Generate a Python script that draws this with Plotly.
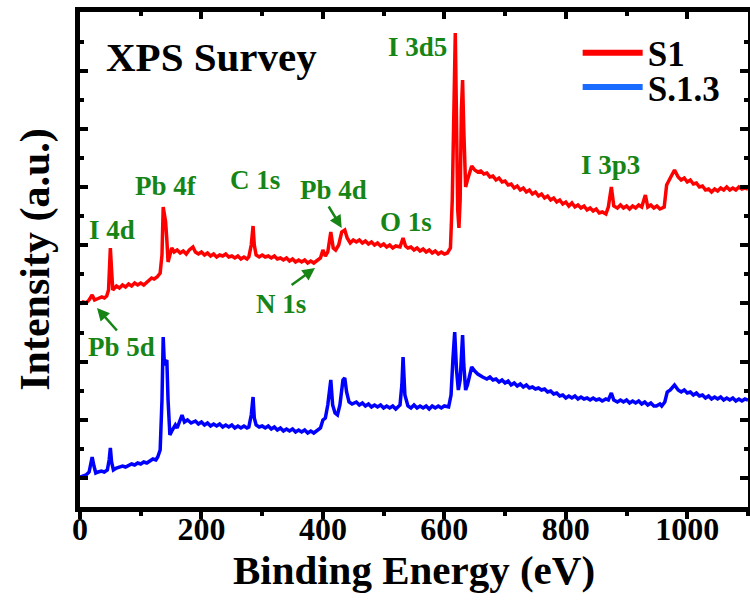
import plotly.graph_objects as go

# ---------------- data ----------------
# (binding energy in eV, intensity in a.u.)
s1_points = [
    (0, 174), (5, 176), (10, 175), (15, 178), (20, 183), (24, 178), (28, 179), (32, 180), (36, 181), (40, 180),
    (44, 182), (47, 188), (49, 216), (50, 230), (52, 208), (54, 188), (57, 190), (60, 192), (65, 190), (70, 193),
    (75, 191), (80, 194), (85, 192), (90, 195), (95, 193), (100, 195), (105, 193), (110, 196), (115, 198), (118, 200),
    (122, 199), (127, 201), (132, 205), (135, 223), (137, 271), (139, 263), (141, 256), (143, 238), (145, 216), (148, 223),
    (151, 230), (155, 226), (160, 228), (165, 225), (170, 227), (175, 224), (180, 228), (186, 231), (190, 226), (195, 224),
    (200, 226), (205, 223), (210, 225), (215, 222), (220, 224), (225, 221), (230, 223), (235, 222), (240, 224), (245, 221),
    (250, 222), (255, 220), (260, 222), (265, 219), (270, 221), (275, 219), (278, 221), (282, 233), (285, 252), (287, 233),
    (290, 223), (295, 221), (300, 223), (305, 221), (310, 222), (315, 220), (320, 222), (325, 219), (330, 220), (335, 218),
    (340, 220), (345, 217), (350, 219), (355, 216), (360, 218), (365, 216), (370, 218), (375, 215), (380, 217), (385, 215),
    (390, 217), (396, 220), (400, 228), (404, 222), (408, 226), (413, 246), (417, 230), (421, 228), (426, 233), (431, 246),
    (436, 248), (440, 240), (445, 235), (450, 238), (455, 236), (460, 238), (465, 235), (470, 237), (475, 234), (480, 236),
    (485, 233), (490, 235), (495, 232), (500, 234), (505, 231), (510, 233), (515, 230), (520, 232), (527, 231), (532, 240),
    (536, 232), (540, 230), (545, 231), (550, 228), (555, 230), (560, 227), (565, 229), (570, 226), (575, 228), (580, 225),
    (585, 227), (590, 224), (595, 226), (600, 224), (605, 225), (610, 230), (613, 278), (616, 418), (618, 445), (620, 358),
    (622, 268), (624, 250), (626, 278), (628, 368), (630, 398), (632, 348), (635, 291), (638, 298), (642, 308), (645, 312),
    (650, 308), (655, 306), (660, 307), (665, 304), (670, 305), (675, 301), (680, 302), (685, 298), (690, 300), (695, 296),
    (700, 297), (705, 293), (710, 294), (715, 290), (720, 292), (725, 288), (730, 290), (735, 286), (740, 288), (745, 284),
    (750, 286), (755, 282), (760, 284), (765, 280), (770, 282), (775, 278), (780, 280), (785, 276), (790, 278), (795, 274),
    (800, 276), (805, 272), (810, 275), (815, 271), (820, 273), (825, 270), (830, 272), (835, 268), (840, 270), (845, 267),
    (850, 269), (855, 265), (860, 266), (866, 264), (870, 271), (875, 291), (879, 272), (885, 270), (890, 273), (895, 270),
    (900, 272), (905, 269), (910, 272), (915, 270), (920, 273), (925, 271), (931, 283), (935, 271), (940, 273), (945, 270),
    (950, 272), (955, 269), (962, 271), (966, 293), (972, 300), (979, 308), (985, 301), (990, 298), (995, 300), (1000, 296),
    (1005, 298), (1010, 294), (1015, 295), (1020, 291), (1025, 292), (1030, 288), (1035, 289), (1040, 286), (1045, 289),
    (1050, 287), (1055, 290), (1060, 288), (1065, 291), (1070, 288), (1075, 290), (1080, 288), (1085, 291), (1090, 289),
    (1095, 290), (1100, 289),
]
s13_points = [
    (0, 1), (5, 2), (10, 3), (15, 6), (18, 16), (20, 21), (23, 12), (26, 5), (30, 6), (35, 7),
    (40, 6), (45, 8), (48, 18), (50, 30), (52, 16), (55, 8), (60, 10), (65, 11), (70, 12), (75, 11),
    (80, 13), (85, 14), (90, 13), (95, 15), (100, 14), (105, 16), (110, 15), (115, 17), (120, 19), (125, 18),
    (128, 21), (132, 28), (135, 78), (137, 141), (139, 113), (141, 116), (143, 118), (145, 78), (148, 43), (152, 48),
    (157, 53), (160, 50), (165, 60), (168, 63), (172, 56), (177, 58), (183, 55), (190, 57), (195, 54), (200, 56),
    (205, 53), (210, 55), (215, 52), (220, 54), (225, 52), (230, 54), (235, 51), (240, 53), (245, 51), (250, 53),
    (255, 50), (260, 52), (265, 50), (270, 52), (275, 50), (278, 51), (282, 63), (285, 81), (287, 60), (290, 53),
    (295, 51), (300, 52), (305, 50), (310, 52), (315, 49), (320, 51), (325, 48), (330, 50), (335, 47), (340, 49),
    (345, 47), (350, 49), (355, 46), (360, 48), (365, 46), (370, 48), (375, 45), (380, 47), (385, 45), (390, 47),
    (396, 50), (400, 58), (404, 60), (408, 73), (413, 98), (416, 73), (420, 65), (424, 63), (428, 73), (433, 98),
    (436, 100), (439, 86), (443, 76), (448, 74), (455, 76), (460, 73), (465, 75), (470, 72), (475, 74), (480, 71),
    (485, 73), (490, 71), (495, 73), (500, 70), (505, 72), (510, 70), (515, 72), (520, 69), (527, 73), (530, 93),
    (532, 121), (535, 83), (540, 72), (545, 70), (550, 73), (555, 70), (560, 72), (565, 70), (570, 72), (575, 69),
    (580, 72), (585, 70), (590, 72), (595, 70), (600, 72), (607, 71), (611, 83), (614, 118), (617, 146), (620, 108),
    (623, 88), (626, 98), (628, 133), (630, 143), (632, 113), (635, 88), (638, 93), (642, 106), (645, 111), (650, 107),
    (655, 104), (663, 101), (670, 99), (675, 101), (680, 98), (685, 99), (690, 96), (695, 98), (700, 95), (705, 97),
    (710, 93), (715, 95), (720, 92), (725, 94), (730, 91), (735, 93), (740, 90), (745, 91), (750, 89), (755, 90),
    (760, 88), (765, 89), (770, 86), (775, 87), (780, 84), (785, 85), (790, 82), (795, 83), (800, 80), (805, 82),
    (810, 80), (815, 82), (820, 79), (825, 81), (830, 79), (835, 80), (840, 78), (845, 80), (850, 78), (855, 79),
    (860, 77), (866, 79), (870, 78), (875, 85), (879, 78), (885, 76), (890, 78), (895, 76), (900, 78), (905, 75),
    (910, 77), (915, 75), (920, 77), (925, 74), (930, 76), (935, 73), (940, 75), (945, 72), (949, 72), (955, 74),
    (958, 72), (963, 76), (967, 86), (972, 88), (979, 93), (985, 88), (990, 86), (995, 88), (1000, 85), (1005, 86),
    (1010, 83), (1015, 85), (1020, 82), (1025, 83), (1030, 80), (1035, 82), (1040, 79), (1045, 81), (1050, 79),
    (1055, 81), (1060, 78), (1065, 80), (1070, 78), (1075, 80), (1080, 77), (1085, 79), (1090, 77), (1095, 79),
    (1100, 78),
]
energy_s1 = [p[0] for p in s1_points]
intensity_s1 = [p[1] for p in s1_points]
energy_s13 = [p[0] for p in s13_points]
intensity_s13 = [p[1] for p in s13_points]

series_names = ["S1", "S.1.3"]
peak_labels = ["I 3d5", "Pb 4f", "I 4d", "C 1s", "Pb 4d", "O 1s", "I 3p3", "N 1s", "Pb 5d"]
x_tick_values = [0, 200, 400, 600, 800, 1000]

# ---------------- styling ----------------
FONT = "Liberation Serif"
GREEN = "#168516"
RED = "#FF0000"
BLUE = "#0000FF"
LEG_BLUE = "#1A6BFF"

fig = go.Figure()
fig.add_trace(go.Scatter(x=energy_s1, y=intensity_s1, mode="lines", name=series_names[0],
                         line=dict(color=RED, width=3.5), showlegend=False))
fig.add_trace(go.Scatter(x=energy_s13, y=intensity_s13, mode="lines", name=series_names[1],
                         line=dict(color=BLUE, width=3.5), showlegend=False))
# legend entries (also anchor the helper axes)
fig.add_trace(go.Scatter(x=[None], y=[None], mode="lines", name=series_names[0], xaxis="x2",
                         line=dict(color=RED, width=6), legend="legend"))
fig.add_trace(go.Scatter(x=[None], y=[None], mode="lines", name=series_names[1], xaxis="x3",
                         line=dict(color=LEG_BLUE, width=6), legend="legend2"))

bold = dict(family=FONT, color="black", weight="bold")
tick_common = dict(tickcolor="black", showgrid=False, zeroline=False, automargin=False)

fig.update_layout(
    width=750, height=601,
    margin=dict(l=80, r=2, t=12, b=94, autoexpand=False),
    paper_bgcolor="white", plot_bgcolor="white",
    # bottom axis: frame line + outward ticks
    xaxis=dict(range=[0, 1100], tickvals=x_tick_values, ticks="outside", ticklen=7, tickwidth=4,
               showline=True, linewidth=5, linecolor="black", mirror=False, showticklabels=False,
               minor=dict(ticks="outside", dtick=100, tick0=0, ticklen=4, tickwidth=4, tickcolor="black",
                          showgrid=False), **tick_common),
    # top axis: inward ticks
    xaxis2=dict(range=[0, 1100], overlaying="x", side="top", anchor="y", tickvals=x_tick_values,
                ticks="inside", ticklen=7, tickwidth=4, showline=True, linewidth=5, linecolor="black",
                showticklabels=False,
                minor=dict(ticks="inside", dtick=100, tick0=0, ticklen=4, tickwidth=4, tickcolor="black",
                           showgrid=False), **tick_common),
    # tick labels + title of the energy axis
    xaxis3=dict(range=[0, 1100], overlaying="x", side="bottom", anchor="free", position=0,
                tickvals=x_tick_values, ticks="", showline=False, showgrid=False, zeroline=False,
                automargin=False, tickfont=dict(size=32, **bold),
                title=dict(text="Binding Energy (eV)", font=dict(size=41, **bold), standoff=8)),
    yaxis=dict(range=[-29, 466], tick0=0, dtick=58.2, ticks="inside", ticklen=8, tickwidth=4,
               showline=True, linewidth=5, linecolor="black", mirror="ticks", showticklabels=False,
               minor=dict(ticks="inside", dtick=29.1, tick0=0, ticklen=4, tickwidth=4, tickcolor="black",
                          showgrid=False),
               title=dict(text="Intensity (a.u.)", font=dict(size=42, **bold), standoff=14), **tick_common),
    legend=dict(x=0.745, y=0.917, xanchor="left", yanchor="middle", bgcolor="rgba(0,0,0,0)",
                font=dict(size=35, **bold), itemwidth=60),
    legend2=dict(x=0.745, y=0.848, xanchor="left", yanchor="middle", bgcolor="rgba(0,0,0,0)",
                 font=dict(size=35, **bold), itemwidth=60),
)

# title-like label
fig.add_annotation(x=40, y=421, xref="x", yref="y", text="XPS Survey", showarrow=False,
                   xanchor="left", yanchor="middle", font=dict(size=41, **bold))

# peak labels (center positions)
label_pos = [(556, 431), (142, 292), (53, 248), (288, 298), (417, 288), (537, 256),
             (874, 313), (331, 174), (69, 131)]
for lab, (lx, ly) in zip(peak_labels, label_pos):
    fig.add_annotation(x=lx, y=ly, xref="x", yref="y", text=lab, showarrow=False,
                       xanchor="center", yanchor="middle",
                       font=dict(size=27, family=FONT, color=GREEN, weight="bold"))

# arrows: (head x, head y, tail x, tail y)
arrows = [(28, 170, 63, 146), (387, 210, 346, 192), (431, 250, 408, 273)]
for hx, hy, tx, ty in arrows:
    fig.add_annotation(x=hx, y=hy, ax=tx, ay=ty, xref="x", yref="y", axref="x", ayref="y",
                       text="", showarrow=True, arrowhead=2, arrowsize=1, arrowwidth=2.5,
                       arrowcolor=GREEN)

fig.write_html("out.html")
